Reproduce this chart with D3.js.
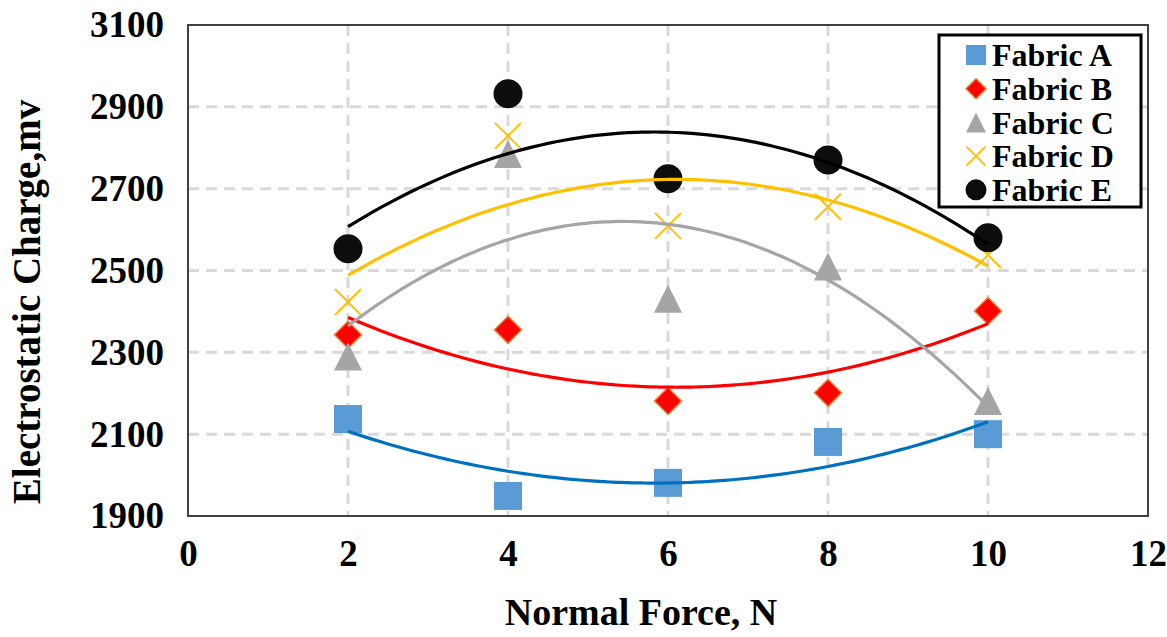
<!DOCTYPE html>
<html>
<head>
<meta charset="utf-8">
<script src="https://cdn.jsdelivr.net/npm/d3@7"></script>
<style>
  body { margin: 0; background: #fff; }
  text { font-family: "Liberation Serif", "Times New Roman", serif; font-weight: bold; fill: #000; }
</style>
</head>
<body>
<div id="chart"></div>
<script>
// Normal force (N) on the x axis
var forces = [2, 4, 6, 8, 10];

// Electrostatic charge (mv)
var fabricA = [2137, 1949, 1981, 2081, 2100];
var fabricB = [2343, 2355, 2181, 2201, 2401];
var fabricC = [2290, 2785, 2431, 2510, 2181];
var fabricD = [2423, 2829, 2609, 2656, 2538];
var fabricE = [2553, 2932, 2724, 2770, 2580];

var seriesNames = ["Fabric A", "Fabric B", "Fabric C", "Fabric D", "Fabric E"];
var xTicks = [0, 2, 4, 6, 8, 10, 12];
var yTicks = [1900, 2100, 2300, 2500, 2700, 2900, 3100];

var series = [
  { name: seriesNames[0], values: fabricA, shape: "square",   fill: "#5B9BD5", stroke: "none",    line: "#0070C0" },
  { name: seriesNames[1], values: fabricB, shape: "diamond",  fill: "#FF0000", stroke: "#ED7D31", line: "#FF0000" },
  { name: seriesNames[2], values: fabricC, shape: "triangle", fill: "#A5A5A5", stroke: "none",    line: "#A5A5A5" },
  { name: seriesNames[3], values: fabricD, shape: "cross",    fill: "none",    stroke: "#FFC000", line: "#FFC000" },
  { name: seriesNames[4], values: fabricE, shape: "circle",   fill: "#0D0D0D", stroke: "none",    line: "#000000" }
];

var width = 1167, height = 637;
var margin = { top: 25, right: 19, bottom: 121, left: 188 };

var svg = d3.select("#chart").append("svg")
    .attr("width", width)
    .attr("height", height);

var x = d3.scaleLinear().domain([0, 12]).range([margin.left, width - margin.right]);
var y = d3.scaleLinear().domain([1900, 3100]).range([height - margin.bottom, margin.top]);

// Gridlines (dashed, light gray)
svg.append("g").selectAll("line")
    .data(yTicks.slice(1, -1))
    .enter().append("line")
    .attr("x1", x(0)).attr("x2", x(12))
    .attr("y1", function(d) { return y(d); })
    .attr("y2", function(d) { return y(d); })
    .attr("stroke", "#D9D9D9").attr("stroke-width", 3)
    .attr("stroke-dasharray", "11,7");

svg.append("g").selectAll("line")
    .data(xTicks.slice(1, -1))
    .enter().append("line")
    .attr("y1", y(3100)).attr("y2", y(1900))
    .attr("x1", function(d) { return x(d); })
    .attr("x2", function(d) { return x(d); })
    .attr("stroke", "#D9D9D9").attr("stroke-width", 3)
    .attr("stroke-dasharray", "11,7");

// Plot area border
svg.append("rect")
    .attr("x", x(0)).attr("y", y(3100))
    .attr("width", x(12) - x(0)).attr("height", y(1900) - y(3100))
    .attr("fill", "none").attr("stroke", "#404040").attr("stroke-width", 2);

// Axes (labels only)
var xAxis = d3.axisBottom(x).tickValues(xTicks).tickSize(0).tickPadding(24)
    .tickFormat(d3.format("d"));
var yAxis = d3.axisLeft(y).tickValues(yTicks).tickSize(0).tickPadding(24)
    .tickFormat(d3.format("d"));

svg.append("g")
    .attr("class", "x-axis")
    .attr("transform", "translate(0," + y(1900) + ")")
    .call(xAxis);

svg.append("g")
    .attr("class", "y-axis")
    .attr("transform", "translate(" + x(0) + ",0)")
    .call(yAxis);

svg.selectAll(".x-axis path, .y-axis path").remove();
svg.selectAll(".x-axis text, .y-axis text")
    .attr("font-family", null)
    .attr("font-size", null)
    .style("font-size", "37px");

// Axis titles
svg.append("text")
    .attr("x", 641)
    .attr("y", 625)
    .attr("text-anchor", "middle")
    .style("font-size", "38px")
    .text("Normal Force, N");

svg.append("text")
    .attr("transform", "translate(40,302) rotate(-90)")
    .attr("text-anchor", "middle")
    .style("font-size", "39px")
    .text("Electrostatic Charge,mv");

// Marker shapes
function markerPath(shape, s) {
  var h = s / 2;
  if (shape == "square") return "M" + -h + "," + -h + "H" + h + "V" + h + "H" + -h + "Z";
  if (shape == "diamond") return "M0," + -h + "L" + h + ",0L0," + h + "L" + -h + ",0Z";
  if (shape == "triangle") return "M0," + -h + "L" + h + "," + h + "L" + -h + "," + h + "Z";
  if (shape == "cross") return "M" + -h + "," + -h + "L" + h + "," + h + "M" + h + "," + -h + "L" + -h + "," + h;
  return d3.arc()({ innerRadius: 0, outerRadius: h, startAngle: 0, endAngle: 2 * Math.PI });
}

function drawMarker(g, s, size) {
  g.append("path")
    .attr("d", markerPath(s.shape, size))
    .attr("fill", s.fill)
    .attr("stroke", s.stroke)
    .attr("stroke-width", s.shape == "cross" ? 2 : (s.shape == "diamond" ? 1.5 : 0));
}

var markerSize = { square: 28, diamond: 27, triangle: 28, cross: 26, circle: 29 };

series.forEach(function(s) {
  var g = svg.append("g").attr("class", "points");
  s.values.forEach(function(v, i) {
    var m = g.append("g").attr("transform", "translate(" + x(forces[i]) + "," + y(v) + ")");
    drawMarker(m, s, markerSize[s.shape]);
  });
});

// Polynomial (order 2) trendlines, least squares fit on the data
function quadFit(xs, ys) {
  var n = xs.length, sx = 0, sx2 = 0, sx3 = 0, sx4 = 0, sy = 0, sxy = 0, sx2y = 0;
  for (var i = 0; i < n; i++) {
    var a = xs[i], b = ys[i];
    sx += a; sx2 += a * a; sx3 += a * a * a; sx4 += a * a * a * a;
    sy += b; sxy += a * b; sx2y += a * a * b;
  }
  // solve 3x3 normal equations with Cramer's rule
  var M = [[n, sx, sx2], [sx, sx2, sx3], [sx2, sx3, sx4]];
  var R = [sy, sxy, sx2y];
  function det(m) {
    return m[0][0] * (m[1][1] * m[2][2] - m[1][2] * m[2][1])
         - m[0][1] * (m[1][0] * m[2][2] - m[1][2] * m[2][0])
         + m[0][2] * (m[1][0] * m[2][1] - m[1][1] * m[2][0]);
  }
  var D = det(M), coef = [];
  for (var c = 0; c < 3; c++) {
    var Mc = M.map(function(row, r) { return row.map(function(v, k) { return k == c ? R[r] : v; }); });
    coef.push(det(Mc) / D);
  }
  return function(t) { return coef[0] + coef[1] * t + coef[2] * t * t; };
}

var line = d3.line()
    .x(function(d) { return x(d[0]); })
    .y(function(d) { return y(d[1]); })
    .curve(d3.curveBasis);

series.forEach(function(s) {
  var f = quadFit(forces, s.values);
  var pts = d3.range(2, 10.01, 0.1).map(function(t) { return [t, f(t)]; });
  svg.append("path")
    .datum(pts)
    .attr("d", line)
    .attr("fill", "none")
    .attr("stroke", s.line)
    .attr("stroke-width", 3.2);
});

// Legend
var legend = svg.append("g").attr("class", "legend");
legend.append("rect")
    .attr("x", 939).attr("y", 35)
    .attr("width", 202).attr("height", 172)
    .attr("fill", "#fff").attr("stroke", "#000").attr("stroke-width", 3);

var legendSize = { square: 20, diamond: 20, triangle: 20, cross: 19, circle: 21 };
series.forEach(function(s, i) {
  var row = legend.append("g").attr("transform", "translate(976," + (55 + i * 33.7) + ")");
  drawMarker(row, s, legendSize[s.shape]);
  row.append("text")
    .attr("x", 16)
    .attr("dy", "0.35em")
    .style("font-size", "32px")
    .text(s.name);
});
</script>
</body>
</html>
